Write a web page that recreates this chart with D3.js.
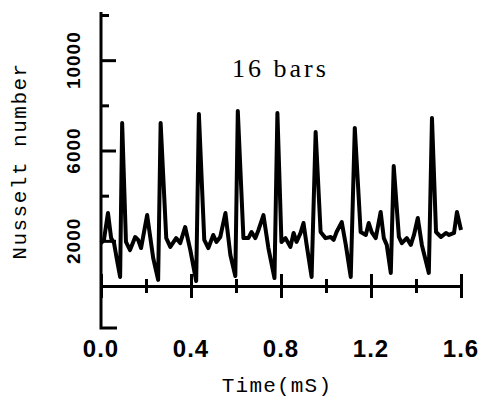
<!DOCTYPE html>
<html>
<head>
<meta charset="utf-8">
<script src="https://cdn.jsdelivr.net/npm/d3@7"></script>
<style>
  body { margin: 0; background: #fff; }
</style>
</head>
<body>
<div id="chart"></div>
<script>
// time in mS, Nusselt number
const time = [0, 0.013, 0.031, 0.045, 0.058, 0.071, 0.085, 0.094, 0.111, 0.129, 0.152, 0.165, 0.178, 0.205, 0.232, 0.254,
  0.265, 0.290, 0.308, 0.334, 0.352, 0.374, 0.397, 0.423, 0.435, 0.459, 0.477, 0.499, 0.513, 0.530, 0.553, 0.575, 0.597,
  0.608, 0.633, 0.655, 0.669, 0.686, 0.700, 0.722, 0.744, 0.771, 0.784, 0.802, 0.820, 0.842, 0.856, 0.869, 0.887, 0.900,
  0.914, 0.936, 0.954, 0.976, 0.998, 1.021, 1.034, 1.047, 1.070, 1.088, 1.110, 1.128, 1.154, 1.177, 1.190, 1.203, 1.221,
  1.243, 1.257, 1.270, 1.288, 1.301, 1.324, 1.337, 1.359, 1.377, 1.391, 1.408, 1.426, 1.457, 1.471, 1.489, 1.511, 1.533,
  1.547, 1.569, 1.582, 1.600];
const nusselt = [1900, 2040, 3230, 2120, 1900, 1150, 400, 7220, 1950, 1590, 2170, 2040, 1680, 3140, 1240, 270,
  7220, 2120, 1730, 2120, 1900, 2610, 1590, 220, 7620, 2040, 1680, 2260, 1950, 2170, 3230, 1370, 440,
  7750, 2120, 2120, 2390, 2120, 2480, 3140, 1680, 350, 7660, 1950, 2120, 1730, 2350, 1950, 2350, 2790,
  1820, 400, 6820, 2390, 2120, 2170, 2040, 2390, 2830, 1820, 400, 7000, 2390, 2260, 2790, 2390, 2120,
  3280, 2120, 1820, 580, 5310, 2170, 1900, 2120, 1820, 2260, 3010, 1820, 580, 7440, 2390, 2170, 2350,
  2260, 2350, 3280, 2480];

const xMajor = [0, 0.4, 0.8, 1.2, 1.6];
const xMinor = [0.2, 0.6, 1.0, 1.4];
const yLong = [2000, 6000, 10000];
const yShort = [4000, 8000, 12000];

const width = 482, height = 400;
const data = time.map((t, i) => ({t: t, v: nusselt[i]}));

const svg = d3.select("#chart")
  .append("svg")
    .attr("width", width)
    .attr("height", height);

const x = d3.scaleLinear().domain([0, 1.6]).range([101, 461]);
const y = d3.scaleLinear().domain([0, 12000]).range([286, 15]);

// y axis: extends above the top tick and below the x axis, with a foot
svg.append("path")
  .attr("d", `M${x(0)},12 V328 H117`)
  .attr("fill", "none")
  .attr("stroke", "#000")
  .attr("stroke-width", 3);

svg.append("g")
  .attr("transform", `translate(${x(0)},0)`)
  .call(d3.axisRight(y).tickValues(yLong).tickSize(15).tickFormat(""))
  .call(g => g.select(".domain").remove())
  .call(g => g.selectAll("line").attr("stroke-width", 3));
svg.append("g")
  .attr("transform", `translate(${x(0)},0)`)
  .call(d3.axisRight(y).tickValues(yShort).tickSize(8).tickFormat(""))
  .call(g => g.select(".domain").remove())
  .call(g => g.selectAll("line").attr("stroke-width", 3));

// x axis sits at Nu = 0, ticks cross the line
svg.append("g")
  .attr("transform", `translate(0,${y(0)})`)
  .call(d3.axisBottom(x).tickValues(xMajor).tickSize(12).tickSizeOuter(0).tickFormat(""))
  .call(g => g.select(".domain").attr("stroke-width", 3))
  .call(g => g.selectAll("line").attr("y1", -12).attr("stroke-width", 3));
svg.append("g")
  .attr("transform", `translate(0,${y(0)})`)
  .call(d3.axisBottom(x).tickValues(xMinor).tickSize(7).tickFormat(""))
  .call(g => g.select(".domain").remove())
  .call(g => g.selectAll("line").attr("y1", -7).attr("stroke-width", 3));

// tick labels
svg.append("g")
  .selectAll("text")
  .data(xMajor)
  .join("text")
    .attr("x", d => x(d))
    .attr("y", 357)
    .attr("text-anchor", "middle")
    .style("font-family", "'Liberation Sans', Arial, sans-serif")
    .style("font-weight", "bold")
    .style("font-size", "24px")
    .style("letter-spacing", "1px")
    .text(d => d.toFixed(1));

svg.append("g")
  .selectAll("text")
  .data(yLong)
  .join("text")
    .attr("transform", d => `translate(80,${y(d)}) rotate(-90)`)
    .attr("text-anchor", "middle")
    .style("font-family", "'Liberation Sans', Arial, sans-serif")
    .style("font-weight", "bold")
    .style("font-size", "19px")
    .style("letter-spacing", "1px")
    .text(d => d);

// titles
svg.append("text")
  .attr("transform", "translate(26,161) rotate(-90)")
  .attr("text-anchor", "middle")
  .style("font-family", "'Liberation Mono', 'DejaVu Sans Mono', monospace")
  .style("font-size", "21px")
  .style("letter-spacing", "1.5px")
  .text("Nusselt number");

svg.append("text")
  .attr("x", 277)
  .attr("y", 392)
  .attr("text-anchor", "middle")
  .style("font-family", "'Liberation Mono', 'DejaVu Sans Mono', monospace")
  .style("font-size", "21px")
  .style("letter-spacing", "1.2px")
  .text("Time(mS)");

svg.append("text")
  .attr("x", 232)
  .attr("y", 77)
  .style("font-family", "'Liberation Serif', 'Times New Roman', serif")
  .style("font-size", "26px")
  .style("letter-spacing", "3px")
  .text("16 bars");

// the trace
const line = d3.line()
  .x(d => x(d.t))
  .y(d => y(d.v));

svg.append("path")
  .datum(data)
  .attr("fill", "none")
  .attr("stroke", "#000")
  .attr("stroke-width", 4)
  .attr("stroke-linejoin", "round")
  .attr("d", line);
</script>
</body>
</html>
